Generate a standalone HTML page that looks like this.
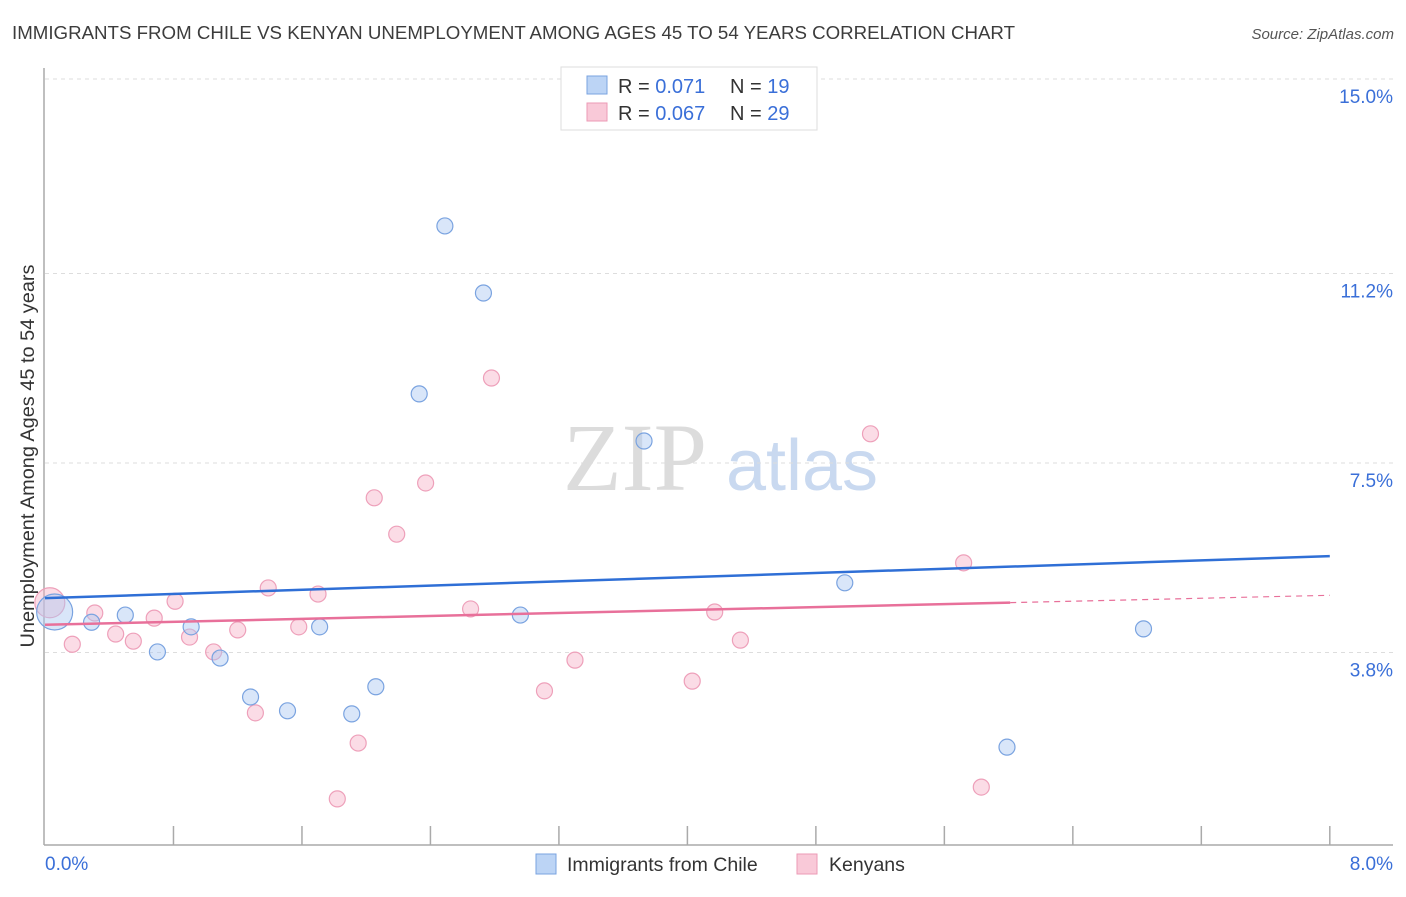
<!DOCTYPE html>
<html><head><meta charset="utf-8"><style>
body{margin:0;background:#fff;font-family:"Liberation Sans",sans-serif;}
svg text{font-family:"Liberation Sans",sans-serif;}
</style></head><body>
<svg id="c" width="1406" height="892">
<text x="12" y="39" font-size="18" textLength="1003" lengthAdjust="spacingAndGlyphs" fill="#3c3c3c">IMMIGRANTS FROM CHILE VS KENYAN UNEMPLOYMENT AMONG AGES 45 TO 54 YEARS CORRELATION CHART</text>
<text x="1394" y="39" font-size="15" fill="#555" text-anchor="end" font-style="italic">Source: ZipAtlas.com</text>
<g>
<text x="635" y="490" font-size="96" fill="#dcdcdc" text-anchor="middle" font-family="Liberation Serif,serif" style="font-family:'Liberation Serif',serif">ZIP</text>
<text x="802" y="490" font-size="72" fill="#c9d9f0" text-anchor="middle">atlas</text>
</g>
<g id="grid"></g>
<g id="axes"></g>
<g id="marks"></g>
<text transform="translate(34,456) rotate(-90)" font-size="19" textLength="383" lengthAdjust="spacingAndGlyphs" fill="#333" text-anchor="middle">Unemployment Among Ages 45 to 54 years</text>
<g>
<rect x="561" y="67" width="256" height="63" fill="#fff" stroke="#ddd"/>
<rect x="587" y="76" width="20" height="18" fill="#bcd4f5" stroke="#7aa3e0"/>
<rect x="587" y="103" width="20" height="18" fill="#f9c9d8" stroke="#ec9ab6"/>
<text x="618" y="93" font-size="20" fill="#333">R = <tspan fill="#3a6fd8">0.071</tspan></text>
<text x="730" y="93" font-size="20" fill="#333">N = <tspan fill="#3a6fd8">19</tspan></text>
<text x="618" y="120" font-size="20" fill="#333">R = <tspan fill="#3a6fd8">0.067</tspan></text>
<text x="730" y="120" font-size="20" fill="#333">N = <tspan fill="#3a6fd8">29</tspan></text>
</g>
<g>
<rect x="536" y="854" width="20" height="20" fill="#bcd4f5" stroke="#7aa3e0"/>
<text x="567" y="871" font-size="19.5" fill="#333">Immigrants from Chile</text>
<rect x="797" y="854" width="20" height="20" fill="#f9c9d8" stroke="#ec9ab6"/>
<text x="829" y="871" font-size="19.5" fill="#333">Kenyans</text>
</g>
</svg>
<script>
const xTicks=[0,8];
const yTicks=[3.8,7.5,11.2,15.0];
const chileX=[0.06,0.29,0.50,0.70,0.91,1.09,1.28,1.51,1.71,1.91,2.06,2.33,2.49,2.73,2.96,3.73,4.98,5.99,6.84];
const chileY=[4.59,4.39,4.53,3.81,4.30,3.69,2.93,2.66,4.30,2.60,3.13,8.85,12.13,10.82,4.53,7.93,5.16,1.95,4.26];
const kenX=[0.03,0.17,0.31,0.44,0.55,0.68,0.81,0.90,1.05,1.20,1.31,1.39,1.58,1.70,1.82,1.95,2.05,2.19,2.37,2.65,2.78,3.11,3.30,4.03,4.17,4.33,5.14,5.72,5.83];
const kenY=[4.77,3.96,4.57,4.16,4.02,4.47,4.80,4.10,3.81,4.24,2.62,5.06,4.30,4.94,0.94,2.03,6.82,6.11,7.11,4.65,9.16,3.05,3.65,3.24,4.59,4.04,8.07,5.55,1.17];
const chileTrend=[4.86,0.1025];
const kenTrend=[4.34,0.072];
const kenSolidEnd=6.01;
const NS="http://www.w3.org/2000/svg";
const X=v=>45+v*160.6, Y=v=>79+(15-v)*51.2;
function mk(t,a,p){const e=document.createElementNS(NS,t);for(const k in a)e.setAttribute(k,a[k]);p.appendChild(e);return e;}
const grid=document.getElementById('grid'),axes=document.getElementById('axes'),marks=document.getElementById('marks');
yTicks.forEach(v=>{
const l=mk('line',{x1:45,x2:1393,y1:Y(v),y2:Y(v),stroke:'#ddd','stroke-dasharray':'4,4'},grid);


const t=mk('text',{x:1393,y:Y(v)+24,'font-size':19,fill:'#3a6fd8','text-anchor':'end'},grid);
t.textContent=v.toFixed(1)+'%';


});
mk('line',{x1:44,x2:44,y1:68,y2:845,stroke:'#aaa','stroke-width':1.5},axes);
mk('line',{x1:44,x2:1393,y1:845,y2:845,stroke:'#aaa','stroke-width':1.5},axes);
for(let i=1;i<=10;i++){const x=X(i*0.8);mk('line',{x1:x,x2:x,y1:826,y2:845,stroke:'#aaa','stroke-width':1.5},axes);}
xTicks.forEach((v,i)=>{
const t=mk('text',{x:i==0?45:1393,y:870,'font-size':19,fill:'#3a6fd8','text-anchor':i==0?'start':'end'},axes);
t.textContent=v.toFixed(1)+'%';


});
kenX.forEach((x,i)=>{
const c=mk('circle',{cx:X(x),cy:Y(kenY[i]),r:i==0?15:8,fill:'rgba(246,178,200,0.45)',stroke:'#eea0ba','stroke-width':1.2},marks);


});
chileX.forEach((x,i)=>{
const c=mk('circle',{cx:X(x),cy:Y(chileY[i]),r:i==0?18:8,fill:'rgba(170,200,242,0.45)',stroke:'#7aa3e0','stroke-width':1.2},marks);


});
const bl=mk('line',{x1:X(0),y1:Y(chileTrend[0]),x2:X(8),y2:Y(chileTrend[0]+8*chileTrend[1]),stroke:'#2f6fd6','stroke-width':2.5},marks);


const pl=mk('line',{x1:X(0),y1:Y(kenTrend[0]),x2:X(kenSolidEnd),y2:Y(kenTrend[0]+kenSolidEnd*kenTrend[1]),stroke:'#e8709a','stroke-width':2.5},marks);


const pd=mk('line',{x1:X(kenSolidEnd),y1:Y(kenTrend[0]+kenSolidEnd*kenTrend[1]),x2:X(8),y2:Y(kenTrend[0]+8*kenTrend[1]),stroke:'#e8709a','stroke-width':1.2,'stroke-dasharray':'6,5'},marks);


</script>
</body></html>
